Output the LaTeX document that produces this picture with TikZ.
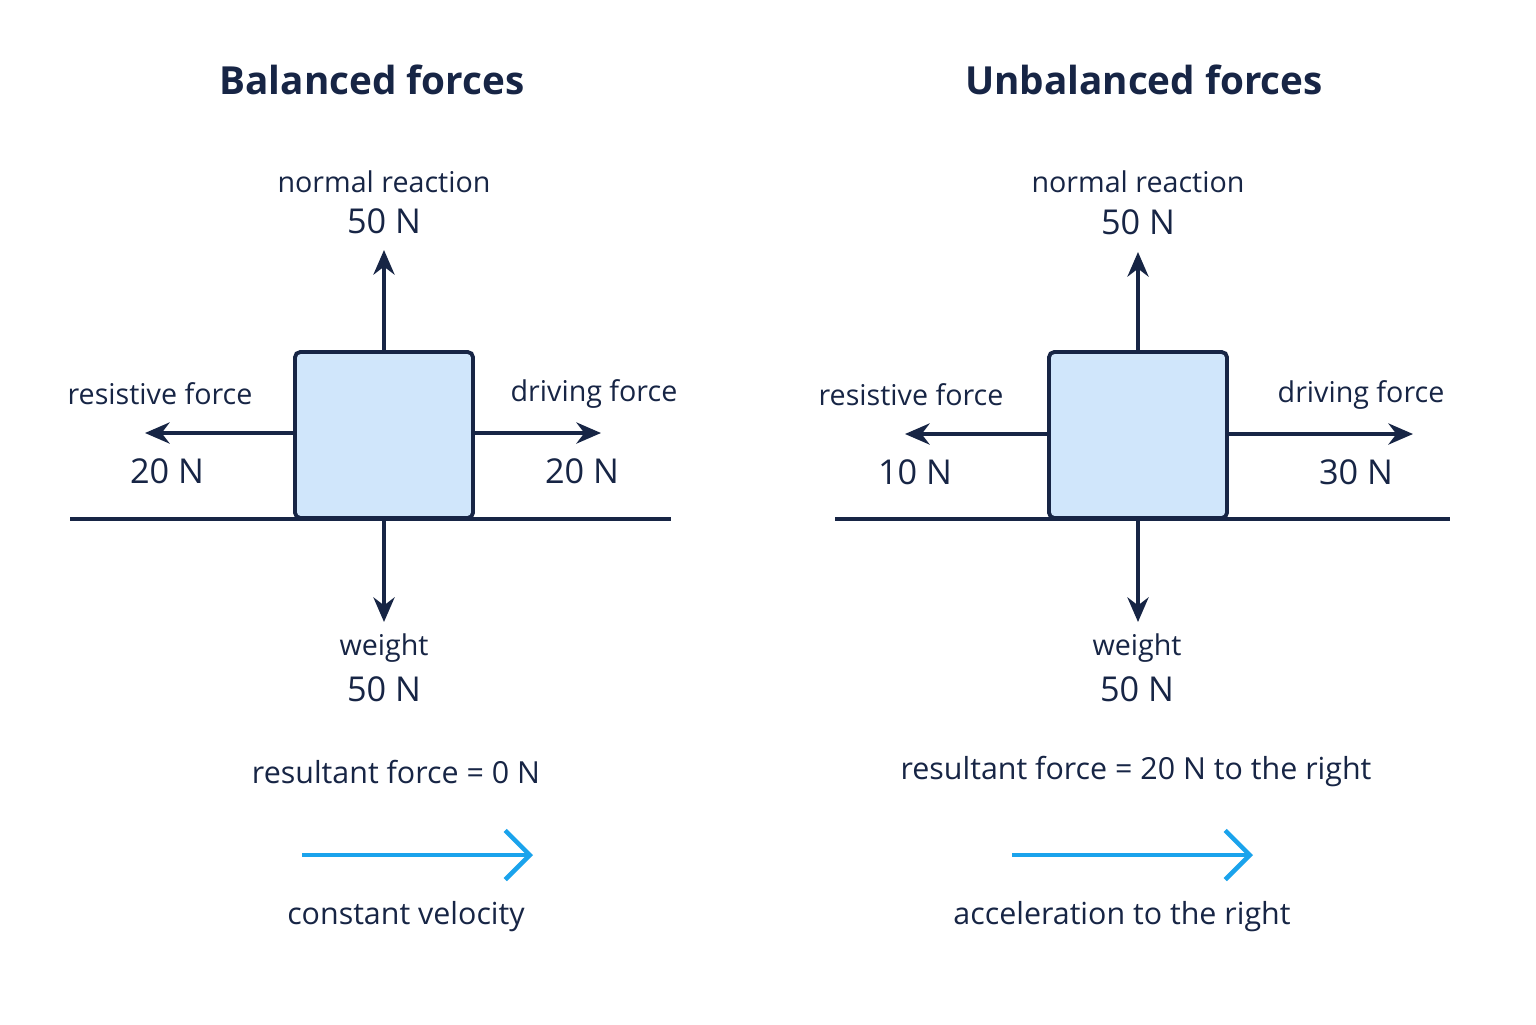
\documentclass[tikz,border=0pt]{standalone}
\usepackage{fontspec}
\setmainfont{Open Sans}
\usetikzlibrary{arrows.meta,positioning}
\definecolor{navy}{HTML}{172545}
\definecolor{boxblue}{HTML}{D0E6FB}
\definecolor{skyblue}{HTML}{1AA3EC}
\tikzset{
  force/.style={navy, line width=2.2pt, -{Stealth[length=14pt,width=12pt]}},
  block/.style={draw=navy, fill=boxblue, line width=2.2pt, rounded corners=3pt, minimum width=178*0.2mm, minimum height=166*0.2mm, inner sep=0pt},
  lbl/.style={text=navy, font=\fontsize{16.3}{19}\selectfont},
  note/.style={text=navy, font=\fontsize{17.3}{20}\selectfont},
  val/.style={text=navy, font=\fontsize{19.5}{22}\selectfont},
  ttl/.style={text=navy, font=\bfseries\fontsize{22}{26}\selectfont},
  motion/.style={skyblue, line width=2.6pt, -{Straight Barb[length=14pt,width=28pt,line width=2.6pt]}}
}
\begin{document}
\begin{tikzpicture}[x=0.2mm,y=-0.2mm]
\useasboundingbox[fill=white] (0,0) rectangle (1536,1024);
% balanced
\node[ttl] (t1) at (372,80) {Balanced forces};
\draw[navy, line width=2.2pt] (70,519) coordinate (g1a) -- (671,519) coordinate (g1b);
\node[block] (b1) at (384,435) {};
\coordinate (u1) at (384,250); \coordinate (d1) at (384,622);
\coordinate (l1) at (145,433); \coordinate (r1) at (601,433);
\draw[force] (b1.north) -- (u1);
\draw[force] (b1.south) -- (d1);
\draw[force] (b1.west |- l1) -- (l1);
\draw[force] (b1.east |- r1) -- (r1);
\node[lbl] (nr1) at (384,182) {normal reaction};
\node[val] (nv1) at (384,221) {50 N};
\node[lbl] (rf1) at (160,394) {resistive force};
\node[val] (rv1) at (167,471) {20 N};
\node[lbl] (df1) at (594,394) {driving force};
\node[val] (dv1) at (582,471) {20 N};
\node[lbl] (w1) at (384,648) {weight};
\node[val] (wv1) at (384,689) {50 N};
\node[note] (res1) at (396,772) {resultant force = 0 N};
\coordinate (m1a) at (302,855); \coordinate (m1b) at (533,855);
\draw[motion] (m1a) -- (m1b);
\node[note] (c1) at (406,917) {constant velocity};
% unbalanced
\node[ttl] (t2) at (1144,80) {Unbalanced forces};
\draw[navy, line width=2.2pt] (835,519) coordinate (g2a) -- (1450,519) coordinate (g2b);
\node[block] (b2) at (1138,435) {};
\coordinate (u2) at (1138,252); \coordinate (d2) at (1138,622);
\coordinate (l2) at (905,434); \coordinate (r2) at (1413,434);
\draw[force] (b2.north) -- (u2);
\draw[force] (b2.south) -- (d2);
\draw[force] (b2.west |- l2) -- (l2);
\draw[force] (b2.east |- r2) -- (r2);
\node[lbl] (nr2) at (1138,182) {normal reaction};
\node[val] (nv2) at (1138,222) {50 N};
\node[lbl] (rf2) at (911,395) {resistive force};
\node[val] (rv2) at (915,472) {10 N};
\node[lbl] (df2) at (1361,395) {driving force};
\node[val] (dv2) at (1356,472) {30 N};
\node[lbl] (w2) at (1137,648) {weight};
\node[val] (wv2) at (1137,689) {50 N};
\node[note] (res2) at (1136,772) {resultant force = 20 N to the right};
\coordinate (m2a) at (1012,855); \coordinate (m2b) at (1253,855);
\draw[motion] (m2a) -- (m2b);
\node[note] (c2) at (1122,917) {acceleration to the right};
\end{tikzpicture}
\end{document}
